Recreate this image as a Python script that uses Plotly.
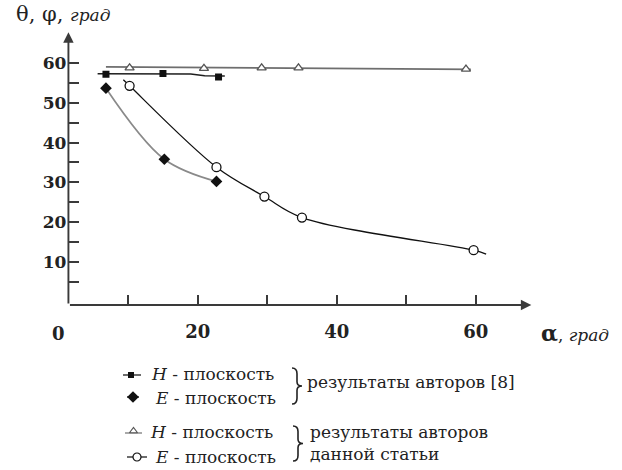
import plotly.graph_objects as go

# ---- data (angles in degrees) ----
# authors [8]: H-plane (squares) and E-plane (diamonds)
h8_alpha = [6.8, 15.0, 23.0]
h8_theta = [57.2, 57.4, 56.5]
e8_alpha = [6.8, 15.2, 22.7]
e8_theta = [53.7, 35.8, 30.2]

# this paper: H-plane (triangles) and E-plane (circles)
hp_alpha = [10.2, 20.9, 29.2, 34.5, 58.6]
hp_theta = [58.8, 58.7, 58.8, 58.8, 58.5]
ep_alpha = [10.2, 22.7, 29.6, 35.0, 59.7]
ep_theta = [54.3, 33.8, 26.4, 21.1, 12.9]

# hand-drawn trend curves
h8_fit_alpha = [5.6, 19.0, 21.0, 23.9]
h8_fit_theta = [57.35, 57.25, 56.85, 56.75]
hp_fit_alpha = [6.8, 46.5, 59.3]
hp_fit_theta = [59.05, 58.7, 58.45]
ep_fit_alpha = [9.3] + ep_alpha + [61.5]
ep_fit_theta = [55.8] + ep_theta + [11.9]

x_ticks = [10, 20, 30, 40, 50, 60]
x_labels = ["", "20", "", "40", "", "60"]
y_ticks = [5, 10, 15, 20, 25, 30, 35, 40, 45, 50, 55, 60]
y_labels = ["", "10", "", "20", "", "30", "", "40", "", "50", "", "60"]

W, H = 622, 470
SERIF = "DejaVu Serif"
INK = "#222222"
AX = "#3a3a3a"

fig = go.Figure()

# trend curves
fig.add_trace(go.Scatter(x=hp_fit_alpha, y=hp_fit_theta, mode="lines",
                         line=dict(color="#6e6e6e", width=1.8)))
fig.add_trace(go.Scatter(x=h8_fit_alpha, y=h8_fit_theta, mode="lines",
                         line=dict(color="#1e1e1e", width=1.5)))
fig.add_trace(go.Scatter(x=e8_alpha, y=e8_theta, mode="lines",
                         line=dict(color="#8a8a8a", width=1.7, shape="spline")))
fig.add_trace(go.Scatter(x=ep_fit_alpha, y=ep_fit_theta, mode="lines",
                         line=dict(color="#111111", width=1.3, shape="spline")))

# measured points
fig.add_trace(go.Scatter(x=hp_alpha, y=hp_theta, mode="markers",
                         marker=dict(symbol="triangle-up", size=8, color="white",
                                     line=dict(color="#555555", width=1.3))))
fig.add_trace(go.Scatter(x=h8_alpha, y=h8_theta, mode="markers",
                         marker=dict(symbol="square", size=7, color="#111111")))
fig.add_trace(go.Scatter(x=e8_alpha, y=e8_theta, mode="markers",
                         marker=dict(symbol="diamond", size=9, color="#111111")))
fig.add_trace(go.Scatter(x=ep_alpha, y=ep_theta, mode="markers",
                         marker=dict(symbol="circle", size=9, color="white",
                                     line=dict(color="#111111", width=1.3))))

# ---- legend keys, drawn on a pixel-space overlay axis ----
key_rows = [375, 397, 433, 457]
key_specs = [
    dict(x0=123, x1=141, mx=131, line="#1e1e1e",
         marker=dict(symbol="square", size=6, color="#111111")),
    dict(x0=127, x1=139, mx=133, line="#1e1e1e",
         marker=dict(symbol="diamond", size=9, color="#111111")),
    dict(x0=125, x1=142, mx=133.5, line="#7a7a7a",
         marker=dict(symbol="triangle-up", size=7, color="white",
                     line=dict(color="#555555", width=1.2))),
    dict(x0=127, x1=147, mx=137, line="#1e1e1e",
         marker=dict(symbol="circle", size=8, color="white",
                     line=dict(color="#111111", width=1.2))),
]
for ky, spec in zip(key_rows, key_specs):
    fig.add_trace(go.Scatter(x=[spec["x0"], spec["x1"]], y=[ky, ky], mode="lines",
                             line=dict(color=spec["line"], width=1.3),
                             xaxis="x2", yaxis="y2"))
    lift = 2 if spec["marker"]["symbol"] == "triangle-up" else 0
    fig.add_trace(go.Scatter(x=[spec["mx"]], y=[ky - lift],
                             mode="markers", marker=spec["marker"],
                             xaxis="x2", yaxis="y2"))

annotations = []

# axis arrows
annotations.append(dict(x=68.0, y=-0.9, ax=1.4, ay=-0.9, xref="x", yref="y",
                        axref="x", ayref="y", text="", showarrow=True,
                        arrowhead=2, arrowsize=1.1, arrowwidth=1.9, arrowcolor=AX))
annotations.append(dict(x=1.4, y=67.8, ax=1.4, ay=-0.9, xref="x", yref="y",
                        axref="x", ayref="y", text="", showarrow=True,
                        arrowhead=2, arrowsize=1.1, arrowwidth=1.9, arrowcolor=AX))

# "0" under the origin
annotations.append(dict(x=0, y=333, xref="x", yref="y2", text="<b>0</b>",
                        showarrow=False, xanchor="center", yanchor="middle",
                        font=dict(family=SERIF, size=18, color=INK)))

# axis titles
annotations.append(dict(x=14, y=14, xref="x2", yref="y2", showarrow=False,
                        xanchor="left", yanchor="middle",
                        text='<span style="font-size:21px">θ, φ, </span>'
                             '<span style="font-size:17px"><i>град</i></span>',
                        font=dict(family=SERIF, size=18, color=INK)))
annotations.append(dict(x=539, y=333, xref="x2", yref="y2", showarrow=False,
                        xanchor="left", yanchor="middle",
                        text='<span style="font-size:22px"><b>α</b></span>'
                             '<span style="font-size:17px">, <i>град</i></span>',
                        font=dict(family=SERIF, size=18, color=INK)))

# legend labels
legend_text = [
    (149, 374, "<i>H</i> - плоскость"),
    (153, 398, "<i>E</i> - плоскость"),
    (148, 432, "<i>H</i> - плоскость"),
    (153, 457, "<i>E</i> - плоскость"),
    (305, 382, "результаты авторов [8]"),
    (308, 432, "результаты авторов"),
    (308, 454, "данной статьи"),
]
for lx, ly, txt in legend_text:
    annotations.append(dict(x=lx, y=ly, xref="x2", yref="y2", text=txt,
                            showarrow=False, xanchor="left", yanchor="middle",
                            font=dict(family=SERIF, size=17, color=INK)))


def brace(x0, y0, y1, w):
    """Right-pointing curly brace path in pixel coordinates."""
    h = y1 - y0
    ym = (y0 + y1) / 2
    xm = x0 + w * 0.5
    return (f"M {x0},{y0} Q {xm},{y0} {xm},{y0 + h * 0.16} "
            f"L {xm},{ym - h * 0.12} Q {xm},{ym} {x0 + w},{ym} "
            f"Q {xm},{ym} {xm},{ym + h * 0.12} "
            f"L {xm},{y1 - h * 0.16} Q {xm},{y1} {x0},{y1}")


shapes = [
    dict(type="path", path=brace(292, 368, 404, 10), xref="x2", yref="y2",
         line=dict(color=INK, width=1.6)),
    dict(type="path", path=brace(293, 426, 461, 10), xref="x2", yref="y2",
         line=dict(color=INK, width=1.6)),
]

fig.update_layout(
    width=W, height=H,
    margin=dict(l=0, r=0, t=0, b=0),
    paper_bgcolor="white", plot_bgcolor="rgba(0,0,0,0)",
    showlegend=False,
    xaxis=dict(domain=[58.7 / W, 545.2 / W], range=[0, 70], anchor="free",
               position=1 - 305 / H, showline=False, showgrid=False, zeroline=False,
               tickmode="array", tickvals=x_ticks, ticktext=x_labels,
               ticks="inside", ticklen=10, tickwidth=1.7, tickcolor=AX,
               ticklabelstandoff=14,
               tickfont=dict(family=SERIF, size=18, color=INK, weight="bold")),
    yaxis=dict(domain=[1 - 309.3 / H, 1 - 31.4 / H], range=[-2, 68], anchor="free",
               position=68.3 / W, showline=False, showgrid=False, zeroline=False,
               tickmode="array", tickvals=y_ticks, ticktext=y_labels,
               ticks="inside", ticklen=10, tickwidth=1.7, tickcolor=AX,
               ticklabelstandoff=2,
               tickfont=dict(family=SERIF, size=17, color=INK, weight="bold")),
    xaxis2=dict(domain=[0, 1], range=[0, W], visible=False, anchor="y2"),
    yaxis2=dict(domain=[0, 1], range=[H, 0], visible=False, anchor="x2"),
    annotations=annotations,
    shapes=shapes,
)

fig.write_html("out.html")
